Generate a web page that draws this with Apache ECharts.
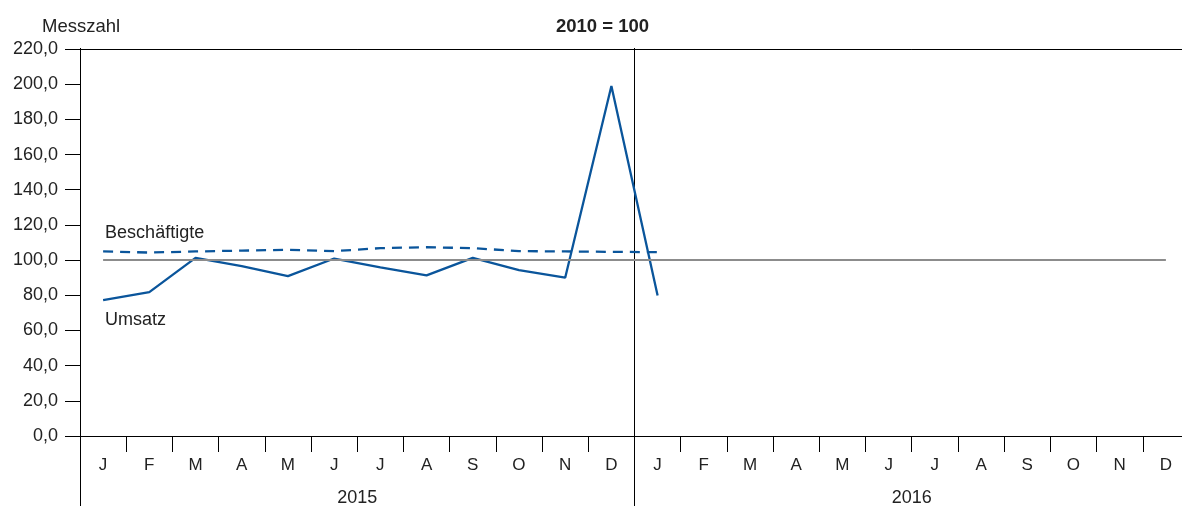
<!DOCTYPE html>
<html>
<head>
<meta charset="utf-8">
<script src="https://cdn.jsdelivr.net/npm/echarts@6/dist/echarts.min.js"></script>
<style>
html,body{margin:0;padding:0;background:#fff;overflow:hidden;width:1182px;height:507px;}
#chart{width:1189px;height:507px;}
</style>
</head>
<body>
<div id="chart"></div>
<script>
const months = ['J','F','M','A','M','J','J','A','S','O','N','D','J','F','M','A','M','J','J','A','S','O','N','D'];
const years = ['2015','2016'];
const umsatz = [77.3, 81.8, 101.3, 96.6, 90.9, 100.9, 95.8, 91.3, 101.3, 94.3, 90.0, 199.0, 79.9];
const beschaeftigte = [104.9, 104.3, 104.9, 105.4, 105.8, 105.1, 106.8, 107.3, 106.8, 105.1, 104.9, 104.7, 104.5];
const baseValue = 100;
const yTicks = {min: 0, max: 220, interval: 20};

const FONT = 'Liberation Sans, Arial, sans-serif';
const TXT = '#222';
const BLUE = '#0a559b';

const chart = echarts.init(document.getElementById('chart'), null, {renderer: 'canvas'});

const labelFirst = (arr, text, pos) => arr.map((v, i) => i === 0 ? {
  value: v,
  label: {
    show: true, formatter: text, position: pos, align: 'left',
    distance: pos === 'top' ? 9 : 11, offset: [2, 0],
    fontFamily: FONT, fontSize: 18, color: TXT
  }
} : v);

chart.setOption({
  animation: false,
  title: [
    {text: 'Messzahl', left: 37, top: 12, textStyle: {fontFamily: FONT, fontSize: 18.5, fontWeight: 'normal', color: TXT}},
    {text: '2010 = 100', left: 551, top: 12, textStyle: {fontFamily: FONT, fontSize: 18.5, fontWeight: 'bold', color: TXT}}
  ],
  grid: {left: 80, top: 49, right: 0, bottom: 70, containLabel: false},
  xAxis: [
    {
      type: 'category', data: months, position: 'bottom', boundaryGap: true,
      axisLine: {show: true, lineStyle: {color: '#000', width: 1}},
      axisTick: {show: true, inside: false, length: 16, lineStyle: {color: '#000', width: 1}},
      axisLabel: {show: true, interval: 0, margin: 21, fontFamily: FONT, fontSize: 17, color: TXT},
      splitLine: {show: false}
    },
    {
      type: 'category', data: years, position: 'bottom', offset: 70, boundaryGap: true,
      axisLine: {show: false},
      axisTick: {show: true, inside: true, length: 458, interval: 0, lineStyle: {color: '#000', width: 1}},
      axisLabel: {show: true, interval: 0, margin: -17, fontFamily: FONT, fontSize: 18, color: TXT},
      splitLine: {show: false}
    },
    {
      type: 'category', data: months, position: 'top', boundaryGap: true,
      axisLine: {show: true, lineStyle: {color: '#000', width: 1}},
      axisTick: {show: false}, axisLabel: {show: false}, splitLine: {show: false}
    }
  ],
  yAxis: {
    type: 'value', min: yTicks.min, max: yTicks.max, interval: yTicks.interval,
    axisLine: {show: true, lineStyle: {color: '#000', width: 1}},
    axisTick: {show: true, inside: false, length: 15, lineStyle: {color: '#000', width: 1}},
    axisLabel: {margin: 22, fontFamily: FONT, fontSize: 18, color: TXT,
      formatter: v => v.toFixed(1).replace('.', ',')},
    splitLine: {show: false}
  },
  series: [
    {
      name: 'Basis', type: 'line', data: [], z: 1, silent: true,
      markLine: {
        silent: true, symbol: 'none', label: {show: false},
        lineStyle: {color: '#8c8c8c', width: 2, type: 'solid'},
        data: [[{coord: [0, baseValue]}, {coord: [months.length - 1, baseValue]}]]
      }
    },
    {
      name: 'Beschäftigte', type: 'line', z: 3,
      data: labelFirst(beschaeftigte, 'Beschäftigte', 'top'),
      symbol: 'circle', symbolSize: 0, showSymbol: true,
      lineStyle: {color: BLUE, width: 2.3, type: [10, 7]},
      itemStyle: {color: BLUE}, emphasis: {disabled: true}
    },
    {
      name: 'Umsatz', type: 'line', z: 4,
      data: labelFirst(umsatz, 'Umsatz', 'bottom'),
      symbol: 'circle', symbolSize: 0, showSymbol: true,
      lineStyle: {color: BLUE, width: 2.3},
      itemStyle: {color: BLUE}, emphasis: {disabled: true}
    }
  ]
});
</script>
</body>
</html>
